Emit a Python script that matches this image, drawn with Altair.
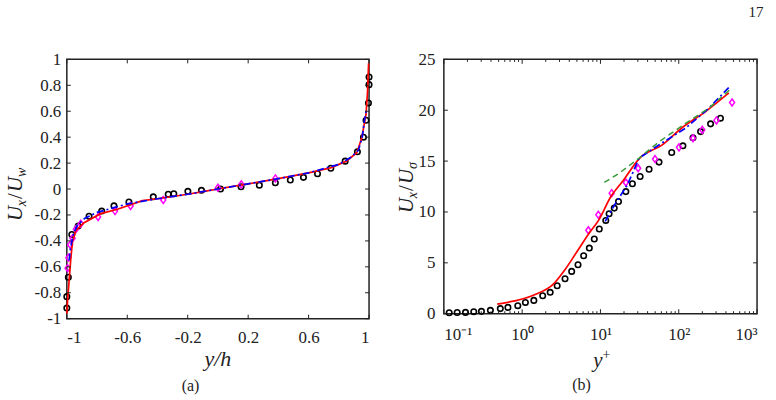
import altair as alt
import pandas as pd

SERIF = "'Times New Roman', 'Liberation Serif', Times, serif"
INK = "#222222"

# ---------------- panel (a): U_x/U_w across the channel ----------------
a_circ_y = [-1.0, -1.0, -0.99, -0.967, -0.925, -0.853, -0.769, -0.688, -0.589, -0.428,
            -0.329, -0.292, -0.199, -0.109, 0.017, 0.153, 0.274, 0.380, 0.479, 0.566,
            0.659, 0.747, 0.842, 0.923, 0.963, 0.980, 0.996, 1.0, 1.0]
a_circ_u = [-0.918, -0.83, -0.68, -0.35, -0.285, -0.21, -0.17, -0.13, -0.10, -0.06,
            -0.04, -0.036, -0.018, -0.01, 0.0, 0.018, 0.03, 0.048, 0.07, 0.09,
            0.118, 0.16, 0.215, 0.287, 0.40, 0.53, 0.664, 0.805, 0.864]

a_diam_y = [-0.995, -0.99, -0.978, -0.962, -0.94, -0.908, -0.793, -0.681, -0.578, -0.362,
            0.0, 0.155, 0.380]
a_diam_u = [-0.61, -0.53, -0.43, -0.38, -0.31, -0.267, -0.215, -0.17, -0.13, -0.085,
            0.01, 0.036, 0.082]

a_red_y = [-1.0, -0.994, -0.985, -0.974, -0.962, -0.94, -0.886, -0.776, -0.665, -0.5,
           -0.4, -0.2, -0.1, 0.0, 0.1, 0.2, 0.4, 0.6, 0.75, 0.85,
           0.919, 0.952, 0.98, 0.99, 0.997]
a_red_u = [-0.96, -0.84, -0.71, -0.54, -0.40, -0.32, -0.26, -0.19, -0.156, -0.09,
           -0.075, -0.04, -0.02, 0.0, 0.02, 0.04, 0.08, 0.125, 0.165, 0.215,
           0.28, 0.395, 0.577, 0.75, 0.97]

a_blue_y = [-0.985, -0.975, -0.955, -0.93, -0.88, -0.8, -0.6, -0.4, -0.2, 0.0,
            0.2, 0.4, 0.6, 0.8, 0.88, 0.93, 0.955, 0.967, 0.98]
a_blue_u = [-0.55, -0.45, -0.34, -0.28, -0.225, -0.18, -0.115, -0.075, -0.04, 0.0,
            0.04, 0.08, 0.125, 0.19, 0.245, 0.30, 0.40, 0.51, 0.60]

a_xticks = [-1, -0.6, -0.2, 0.2, 0.6, 1]
a_yticks = [-1, -0.8, -0.6, -0.4, -0.2, 0, 0.2, 0.4, 0.6, 0.8, 1]

# ---------------- panel (b): U_x/U_sigma against y+ ----------------
b_circ_y = [0.117, 0.148, 0.189, 0.241, 0.302, 0.393, 0.526, 0.658, 0.88, 1.10,
            1.41, 1.83, 2.28, 2.80, 3.53, 4.29, 5.17, 6.10, 7.21, 8.34,
            9.66, 11.7, 12.9, 15.0, 17.0, 21.1, 25.6, 32.1, 41.8, 56.0,
            81.3, 113, 152, 190, 255, 341]
b_circ_u = [0.1, 0.12, 0.13, 0.2, 0.23, 0.33, 0.5, 0.62, 0.79, 1.11,
            1.31, 1.77, 2.1, 2.75, 3.44, 4.16, 4.81, 5.70, 6.45, 7.34,
            8.33, 9.17, 9.82, 10.38, 11.03, 12.0, 12.77, 13.49, 14.2, 14.9,
            15.85, 16.5, 17.3, 17.9, 18.66, 19.22]

b_diam_y = [7.0, 9.4, 13.9, 21.1, 30.3, 49.8, 100.7, 152, 200, 303, 480]
b_diam_u = [8.2, 9.72, 11.85, 12.9, 14.3, 15.2, 16.35, 17.25, 18.07, 19.0, 20.76]

b_red_y = [0.48, 1.44, 2.46, 3.5, 4.88, 7.2, 9.5, 13.6, 19.1, 31.8, 61.7, 111, 220, 436]
b_red_u = [0.95, 1.87, 2.85, 4.3, 5.96, 7.93, 9.2, 11.52, 13.0, 15.3, 16.6, 18.3, 19.87, 21.7]

b_blue_y = [11.5, 15.7, 22.1, 31.2, 61.7, 122, 242, 457]
b_blue_u = [9.07, 10.9, 12.67, 15.3, 16.8, 18.24, 20.2, 22.4]

b_green_y = [11.2, 17.3, 31.2, 56, 122, 242, 447]
b_green_u = [12.9, 13.8, 15.3, 16.9, 18.7, 20.2, 22.0]

b_xmajor = [0.1, 1, 10, 100, 1000]
b_xminor = [k * 10.0 ** e for e in range(-1, 3) for k in range(2, 10)]
b_yticks = [0, 5, 10, 15, 20, 25]

W_A, H_A = 303, 260
W_B, H_B = 314, 255
ONE = pd.DataFrame({"k": [0]})


def frame(x, y):
    return pd.DataFrame({"x": x, "y": y})


def label_text(txt, x, y, size=16, italic=False, align="center", baseline="middle",
               angle=0, dx=0, dy=0):
    kw = dict(text=txt, font=SERIF, fontSize=size, color=INK, align=align,
              baseline=baseline, dx=dx, dy=dy)
    if italic:
        kw["fontStyle"] = "italic"
    if angle:
        kw["angle"] = angle
    return alt.Chart(ONE).mark_text(**kw).encode(x=alt.value(x), y=alt.value(y))


def rotated_ratio(sub_a, sub_b, x0, y0):
    # "U_a / U_b" written bottom-to-top; offsets run in the rotated frame
    pieces = [("U", 0, 0, 21), (sub_a, 14.8, 4.5, 14), ("/", 22.0, 0, 21),
              ("U", 29.0, 0, 21), (sub_b, 44.0, 4.5, 14)]
    return [label_text(t, x0, y0, size=s, italic=(t != "/"), align="left",
                       baseline="alphabetic", angle=270, dx=dx, dy=dy)
            for t, dx, dy, s in pieces]


def inward_ticks(vals, scale, axis, side, length, extent):
    df = pd.DataFrame({"t": vals})
    base = alt.Chart(df).mark_rule(color=INK, strokeWidth=1)
    if side in ("bottom", "top"):
        pos = alt.X("t:Q", scale=scale, axis=axis)
        if side == "bottom":
            return base.encode(x=pos, y=alt.value(extent), y2=alt.value(extent - length))
        return base.encode(x=pos, y=alt.value(0), y2=alt.value(length))
    pos = alt.Y("t:Q", scale=scale, axis=axis)
    if side == "left":
        return base.encode(y=pos, x=alt.value(0), x2=alt.value(length))
    return base.encode(y=pos, x=alt.value(extent), x2=alt.value(extent - length))


# ---------------- panel (a) ----------------
xs_a = alt.Scale(domain=[-1, 1], nice=False, zero=False)
ys_a = alt.Scale(domain=[-1, 1], nice=False, zero=False)
xax_a = alt.Axis(values=a_xticks, labelExpr="'' + datum.value", labelPadding=11,
                 title=None)
yax_a = alt.Axis(values=a_yticks, labelExpr="'' + datum.value", labelPadding=6,
                 title=None)


def enc_a(chart):
    return chart.encode(x=alt.X("x:Q", scale=xs_a, axis=xax_a),
                        y=alt.Y("y:Q", scale=ys_a, axis=yax_a))


circ = dict(shape="circle", filled=False, size=30, strokeWidth=1.6, color="black",
            opacity=1)
diam = dict(shape="M0,-1L0.72,0L0,1L-0.72,0Z", filled=False, size=49,
            strokeWidth=1.5, color="#ff00ff", opacity=1)

panel_a = alt.layer(
    alt.Chart(ONE).mark_rect(opacity=0).encode(
        x=alt.value(-66), x2=alt.value(710), y=alt.value(-58), y2=alt.value(342)),
    enc_a(alt.Chart(frame(a_circ_y, a_circ_u)).mark_point(**circ)),
    enc_a(alt.Chart(frame(a_diam_y, a_diam_u)).mark_point(**diam)),
    enc_a(alt.Chart(frame(a_red_y, a_red_u)).mark_line(color="#ff0000", strokeWidth=1.7)),
    enc_a(alt.Chart(frame(a_blue_y, a_blue_u)).mark_line(
        color="#0000ff", strokeWidth=1.7, strokeDash=[7, 3, 2, 3])),
    inward_ticks(a_xticks, xs_a, xax_a, "bottom", 4, H_A),
    inward_ticks(a_xticks, xs_a, xax_a, "top", 4, H_A),
    inward_ticks(a_yticks, ys_a, yax_a, "left", 4, W_A),
    inward_ticks(a_yticks, ys_a, yax_a, "right", 4, W_A),
    *rotated_ratio("x", "w", -45, 162),
    label_text("y/h", W_A / 2, 300, size=22, italic=True),
    label_text("(a)", 124, 327, size=16),
).properties(width=W_A, height=H_A)

# ---------------- panel (b) ----------------
xs_b = alt.Scale(type="log", domain=[0.1, 1000], nice=False)
ys_b = alt.Scale(domain=[0, 25], nice=False, zero=False)
xax_b = alt.Axis(values=b_xmajor, labelPadding=13, title=None,
                 labelExpr="datum.value < 0.5 ? '10⁻¹' : datum.value < 5 ? '10⁰' : "
                           "datum.value < 50 ? '10¹' : datum.value < 500 ? '10²' : '10³'")
yax_b = alt.Axis(values=b_yticks, labelPadding=9, title=None)


def enc_b(chart):
    return chart.encode(x=alt.X("x:Q", scale=xs_b, axis=xax_b),
                        y=alt.Y("y:Q", scale=ys_b, axis=yax_b))


panel_b = alt.layer(
    enc_b(alt.Chart(frame(b_circ_y, b_circ_u)).mark_point(**circ)),
    enc_b(alt.Chart(frame(b_diam_y, b_diam_u)).mark_point(**diam)),
    enc_b(alt.Chart(frame(b_red_y, b_red_u)).mark_line(
        color="#ff0000", strokeWidth=1.7, interpolate="monotone")),
    enc_b(alt.Chart(frame(b_blue_y, b_blue_u)).mark_line(
        color="#0000ff", strokeWidth=1.7, strokeDash=[7, 3, 2, 3])),
    enc_b(alt.Chart(frame(b_green_y, b_green_u)).mark_line(
        color="#3a9a3a", strokeWidth=1.5, strokeDash=[6, 4])),
    inward_ticks(b_xmajor, xs_b, xax_b, "bottom", 4.5, H_B),
    inward_ticks(b_xmajor, xs_b, xax_b, "top", 4.5, H_B),
    inward_ticks(b_xminor, xs_b, xax_b, "bottom", 2.5, H_B),
    inward_ticks(b_xminor, xs_b, xax_b, "top", 2.5, H_B),
    inward_ticks(b_yticks, ys_b, yax_b, "left", 4, W_B),
    inward_ticks(b_yticks, ys_b, yax_b, "right", 4, W_B),
    *rotated_ratio("x", "σ", -31, 154),
    label_text("y", W_B / 2 + 2, 302, size=21, italic=True, align="right"),
    label_text("+", W_B / 2 + 2, 302, size=14, align="left", dy=-6),
    label_text("(b)", 138, 326, size=16),
    label_text("17", 313, -47, size=15),
).properties(width=W_B, height=H_B)

chart = alt.hconcat(panel_a, panel_b, spacing=75, bounds="flush").properties(
    padding=0
).configure_view(
    stroke=INK, strokeWidth=1.5
).configure_axis(
    labelFont=SERIF, labelFontSize=17, labelColor=INK, ticks=False, domain=False,
    grid=False
)

chart.save("out.html", embed_options={"renderer": "svg", "actions": False})
